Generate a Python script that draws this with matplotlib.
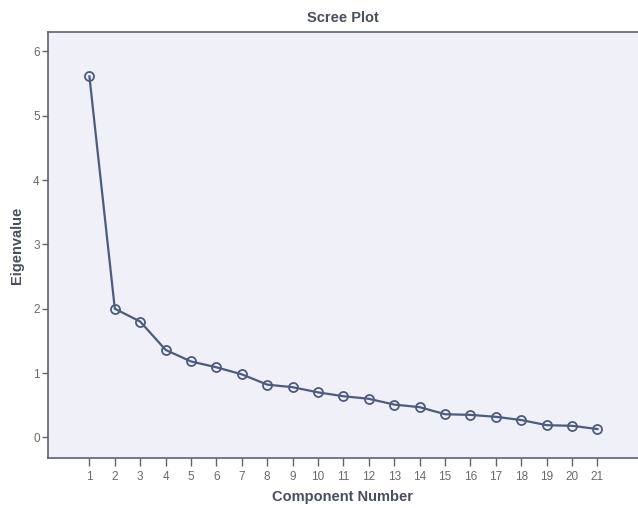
import numpy as np
import matplotlib.pyplot as plt

plt.rcParams['font.family'] = ['Liberation Sans', 'DejaVu Sans']

# 数据：成分编号与特征值
components = list(range(1, 22))
eigenvalues = [5.61, 2.00, 1.80, 1.36, 1.18, 1.09, 0.98, 0.82, 0.78, 0.70,
               0.64, 0.60, 0.51, 0.47, 0.36, 0.35, 0.32, 0.27, 0.19, 0.18, 0.13]
y_ticks = [0, 1, 2, 3, 4, 5, 6]

W, H = 638, 508
fig = plt.figure(figsize=(W / 100, H / 100), dpi=100)
fig.patch.set_facecolor('white')

# 坐标轴位置（像素换算）
left, right, top, bottom = 48, 645, 32, 458
ax = fig.add_axes([left / W, 1 - bottom / H, (right - left) / W, (bottom - top) / H])
ax.set_facecolor('#f0f0f8')

line_c = '#4d5c7c'
ax.plot(components, eigenvalues, color=line_c, lw=1.6,
        marker='o', ms=6.5, mfc='none', mec=line_c, mew=1.3, zorder=3)

ax.set_xlim(-0.63, 22.87)
ax.set_ylim(-0.32, 6.30)
ax.set_xticks(components)
ax.set_yticks(y_ticks)

spine_c = '#5a6374'
for s in ['left', 'bottom', 'top', 'right']:
    ax.spines[s].set_color(spine_c)
    ax.spines[s].set_linewidth(1.2)

ax.tick_params(axis='x', length=6, width=1.0, color=spine_c, labelsize=8.5,
               labelcolor='#6a6a6a', pad=3)
ax.tick_params(axis='y', length=4, width=1.0, color=spine_c, labelsize=8.5,
               labelcolor='#6a6a6a', pad=2)

fig.text(343 / W, 1 - 18 / H, 'Scree Plot', ha='center', va='center',
         fontsize=10.5, fontweight='bold', color='#4a4f5c')
fig.text(343 / W, 1 - 497 / H, 'Component Number', ha='center', va='center',
         fontsize=10.5, fontweight='bold', color='#4a4f5c')
fig.text(17 / W, 1 - 245 / H, 'Eigenvalue', ha='center', va='center', rotation=90,
         fontsize=10.5, fontweight='bold', color='#4a4f5c')

plt.savefig('out.png', dpi=100)
